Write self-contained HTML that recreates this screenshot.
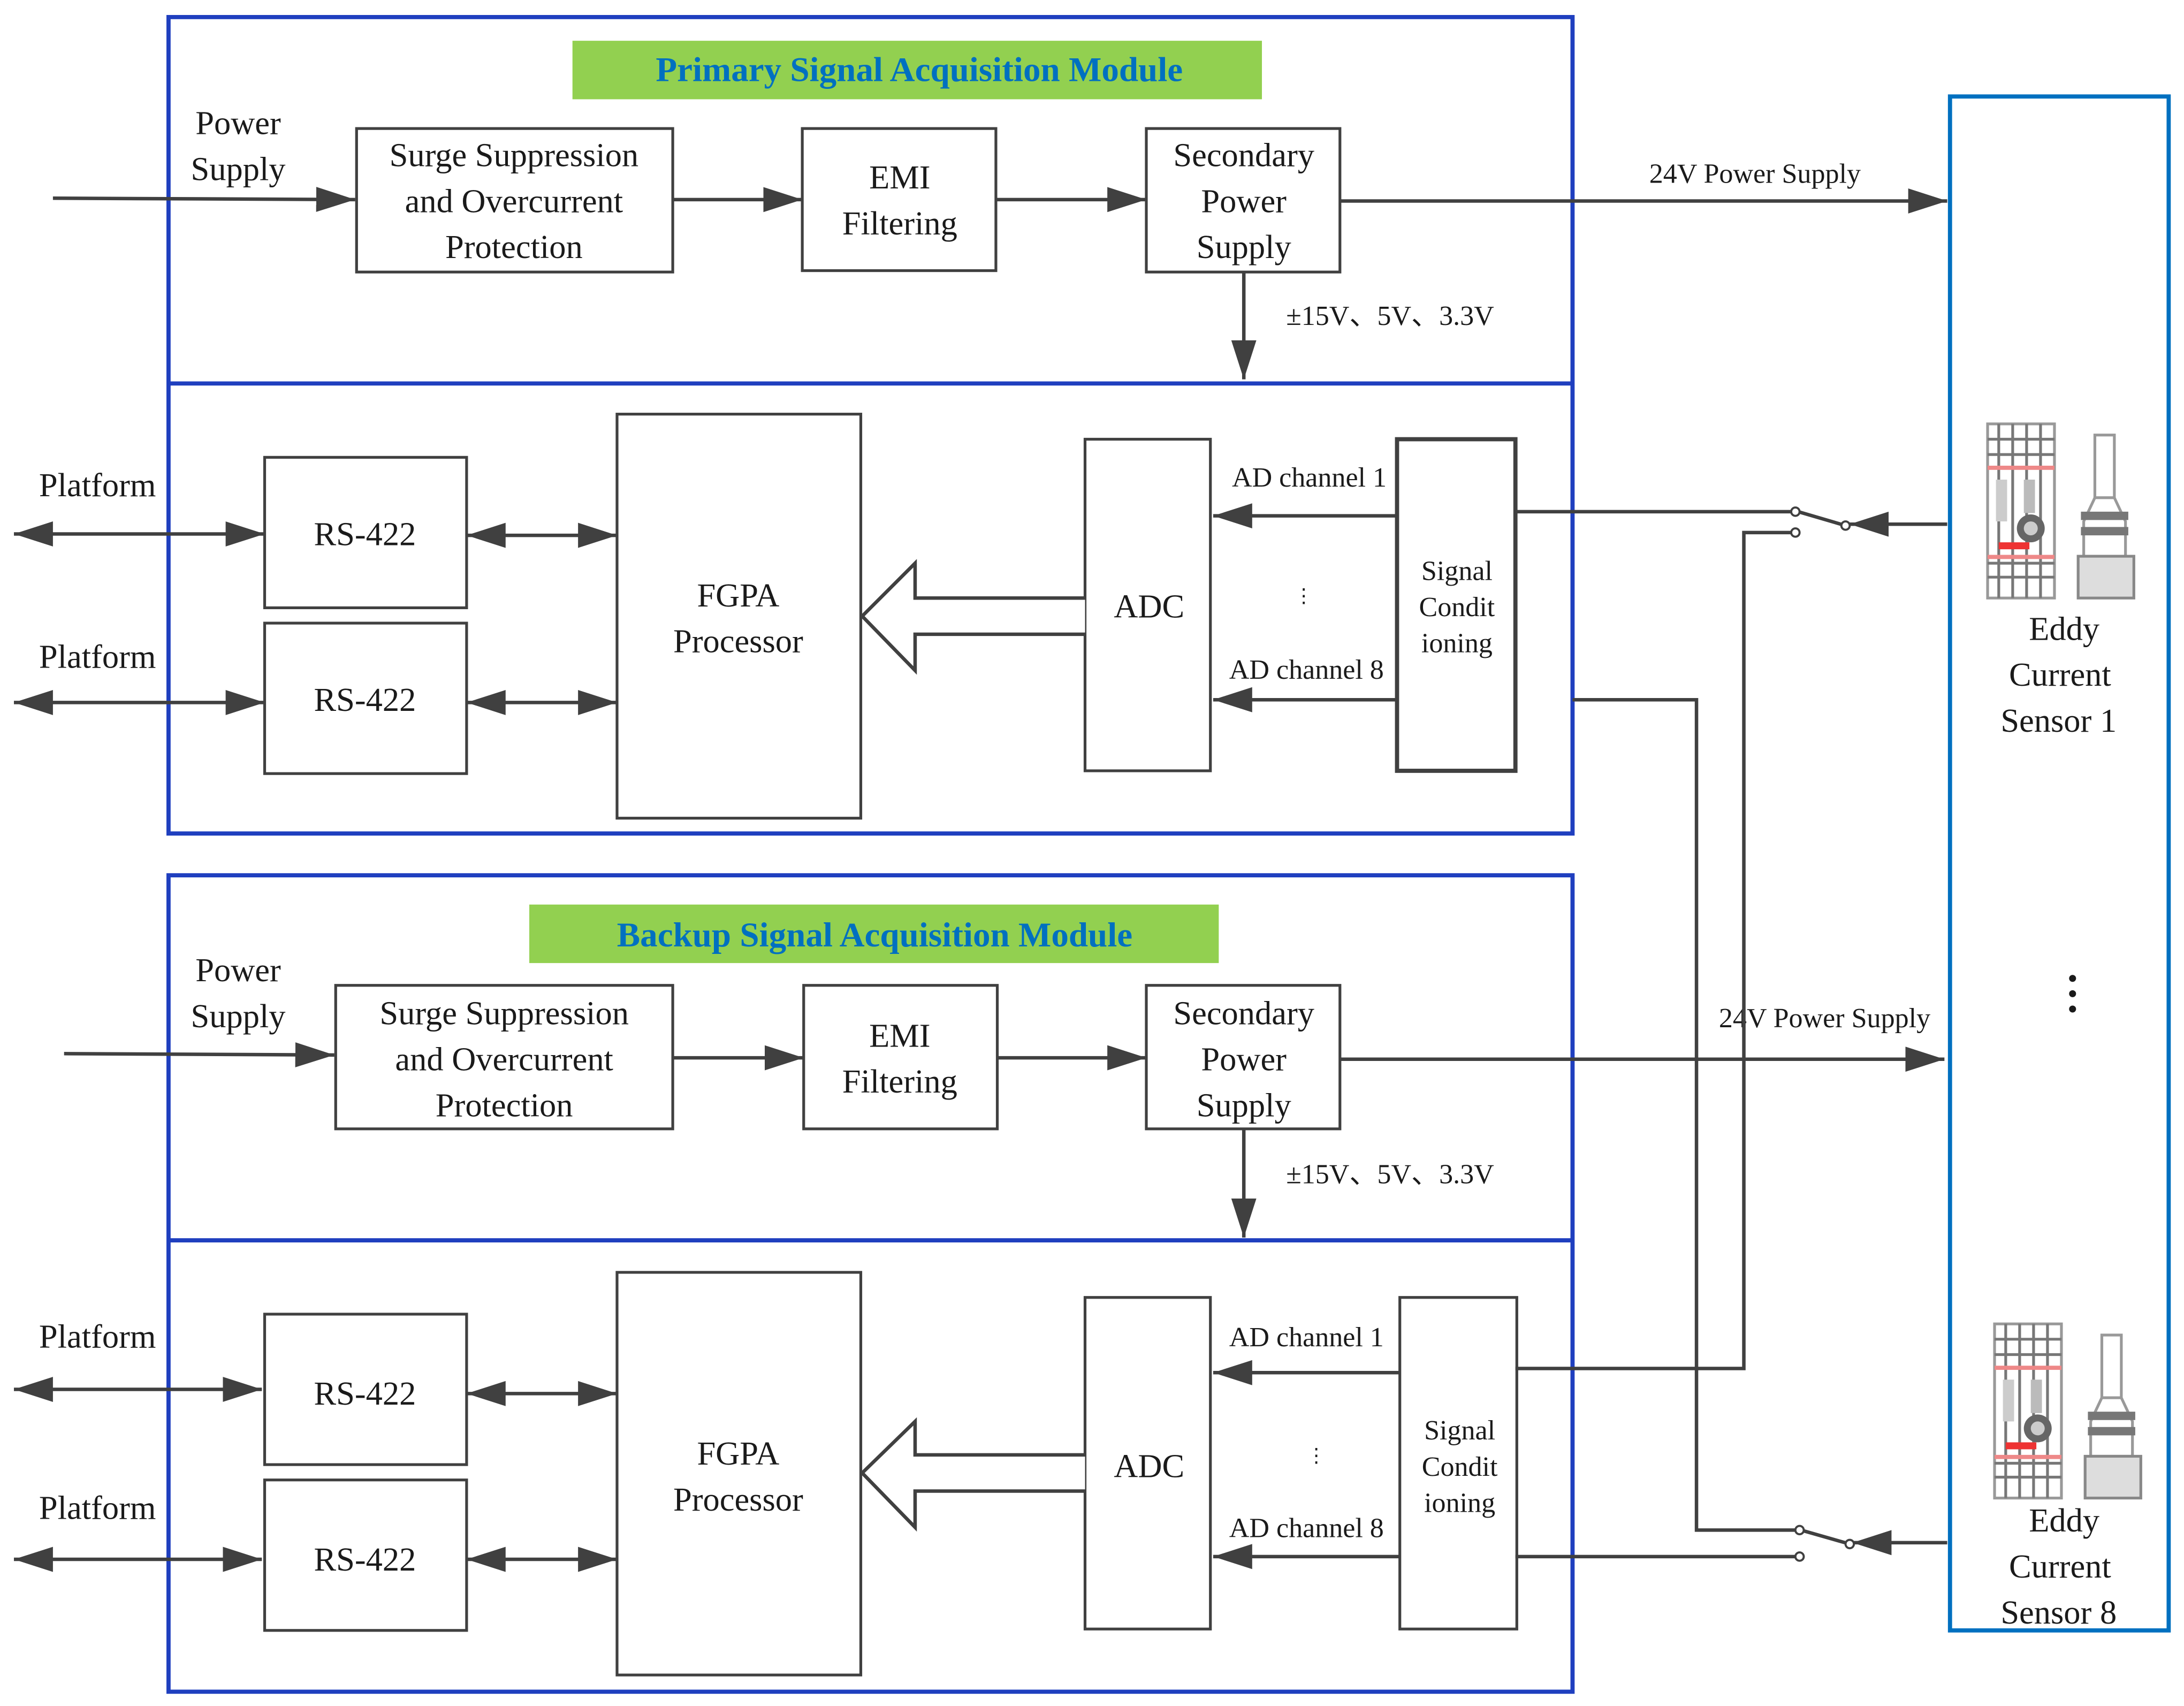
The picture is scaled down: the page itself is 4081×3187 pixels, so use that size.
<!DOCTYPE html>
<html><head><meta charset="utf-8"><style>html,body{margin:0;padding:0;background:#fff}svg{display:block}svg text{font-family:"Liberation Serif","DejaVu Serif",serif}</style></head>
<body>
<svg xmlns="http://www.w3.org/2000/svg" width="4081" height="3187" viewBox="0 0 1568 1224">
<defs>
<marker id="a" markerUnits="userSpaceOnUse" markerWidth="30" markerHeight="20" refX="28" refY="9" orient="auto-start-reverse"><path d="M0,0 L28,9 L0,18 Z" fill="#404040"/></marker>
<g id="icon">
<rect x="0" y="0" width="48" height="125" fill="#fff" stroke="#999" stroke-width="2"/>
<g stroke="#777" stroke-width="2" fill="none">
<line x1="8" y1="0" x2="8" y2="125"/><line x1="18" y1="0" x2="18" y2="125"/><line x1="28" y1="0" x2="28" y2="125"/><line x1="38" y1="0" x2="38" y2="125"/>
<line x1="0" y1="11" x2="48" y2="11"/><line x1="0" y1="22" x2="48" y2="22"/><line x1="0" y1="110" x2="48" y2="110"/><line x1="0" y1="100" x2="48" y2="100"/>
</g>
<rect x="0" y="30" width="48" height="3" fill="#e88"/><rect x="0" y="94" width="48" height="3" fill="#e88"/>
<rect x="8" y="85" width="22" height="5" fill="#e33"/>
<circle cx="31" cy="75" r="10" fill="#666"/><circle cx="31" cy="75" r="5" fill="#ccc"/>
<rect x="6" y="40" width="8" height="30" fill="#ccc"/><rect x="26" y="40" width="8" height="24" fill="#bbb"/>
<g transform="translate(55,0)">
<rect x="22" y="8" width="14" height="45" fill="#fff" stroke="#999" stroke-width="2"/>
<path d="M22,53 L14,70 L14,95 L44,95 L44,70 L36,53 Z" fill="#fff" stroke="#999" stroke-width="2"/>
<rect x="12" y="63" width="34" height="6" fill="#777"/><rect x="12" y="74" width="34" height="6" fill="#777"/>
<rect x="10" y="95" width="40" height="30" fill="#ddd" stroke="#888" stroke-width="2"/>
</g>
</g>
</defs>
<g style="font-family:'Liberation Serif',serif" fill="#1a1a1a">
<g fill="none" stroke="#1f3fbf" stroke-width="3">
<rect x="121" y="12" width="1008" height="586"/><line x1="121" y1="275" x2="1129" y2="275"/>
<rect x="121" y="628" width="1008" height="586"/><line x1="121" y1="890" x2="1129" y2="890"/>
</g>
<rect x="1400" y="69" width="157" height="1101" fill="none" stroke="#0070c0" stroke-width="3"/>
<rect x="411" y="29" width="495" height="42" fill="#92d050"/>
<text x="660" y="58" text-anchor="middle" font-size="25" font-weight="bold" fill="#0070c0">Primary Signal Acquisition Module</text>
<rect x="380" y="649" width="495" height="42" fill="#92d050"/>
<text x="628" y="679" text-anchor="middle" font-size="25" font-weight="bold" fill="#0070c0">Backup Signal Acquisition Module</text>

<g fill="#fff" stroke="#404040" stroke-width="2">
<rect x="256" y="92" width="227" height="103"/><rect x="576" y="92" width="139" height="102"/><rect x="823" y="92" width="139" height="103"/>
<rect x="190" y="328" width="145" height="108"/><rect x="190" y="447" width="145" height="108"/>
<rect x="443" y="297" width="175" height="290"/><rect x="779" y="315" width="90" height="238"/>
<rect x="1003" y="315" width="85" height="238" stroke-width="3"/>
<rect x="241" y="707" width="242" height="103"/><rect x="577" y="707" width="139" height="103"/><rect x="823" y="707" width="139" height="103"/>
<rect x="190" y="943" width="145" height="108"/><rect x="190" y="1062" width="145" height="108"/>
<rect x="443" y="913" width="175" height="289"/><rect x="779" y="931" width="90" height="238"/>
<rect x="1005" y="931" width="84" height="238"/>
</g>

<g font-size="24" text-anchor="middle">
<text x="171" y="96">Power</text><text x="171" y="129">Supply</text>
<text x="369" y="119">Surge Suppression</text><text x="369" y="152">and Overcurrent</text><text x="369" y="185">Protection</text>
<text x="646" y="135">EMI</text><text x="646" y="168">Filtering</text>
<text x="893" y="119">Secondary</text><text x="893" y="152">Power</text><text x="893" y="185">Supply</text>
<text x="70" y="356">Platform</text><text x="70" y="479">Platform</text>
<text x="262" y="391">RS-422</text><text x="262" y="510">RS-422</text>
<text x="530" y="435">FGPA</text><text x="530" y="468">Processor</text>
<text x="825" y="443">ADC</text>
<text x="171" y="704">Power</text><text x="171" y="737">Supply</text>
<text x="362" y="735">Surge Suppression</text><text x="362" y="768">and Overcurrent</text><text x="362" y="801">Protection</text>
<text x="646" y="751">EMI</text><text x="646" y="784">Filtering</text>
<text x="893" y="735">Secondary</text><text x="893" y="768">Power</text><text x="893" y="801">Supply</text>
<text x="70" y="967">Platform</text><text x="70" y="1090">Platform</text>
<text x="262" y="1008">RS-422</text><text x="262" y="1127">RS-422</text>
<text x="530" y="1051">FGPA</text><text x="530" y="1084">Processor</text>
<text x="825" y="1060">ADC</text>
<text x="1482" y="459">Eddy</text><text x="1479" y="492">Current</text><text x="1478" y="525">Sensor 1</text>
<text x="1482" y="1099">Eddy</text><text x="1479" y="1132">Current</text><text x="1478" y="1165">Sensor 8</text>
</g>
<g font-size="20" text-anchor="middle">
<text x="1046" y="416">Signal</text><text x="1046" y="442">Condit</text><text x="1046" y="468">ioning</text>
<text x="1048" y="1033">Signal</text><text x="1048" y="1059">Condit</text><text x="1048" y="1085">ioning</text>
<text x="940" y="349">AD channel  1</text><text x="938" y="487">AD channel  8</text>
<text x="938" y="966">AD channel  1</text><text x="938" y="1103">AD channel  8</text>
<text x="1260" y="131">24V Power Supply</text><text x="1310" y="737">24V Power Supply</text>
<text x="998" y="233">±15V、5V、3.3V</text><text x="998" y="849">±15V、5V、3.3V</text>
<text x="698" y="449">I/O</text><text x="698" y="1064">I/O</text>
<text x="936" y="432" font-size="14">⋮</text><text x="945" y="1049" font-size="14">⋮</text>
</g>
<g fill="#1a1a1a"><circle cx="1488" cy="702" r="2.5"/><circle cx="1488" cy="713" r="2.5"/><circle cx="1488" cy="724" r="2.5"/></g>

<g stroke="#404040" stroke-width="2.5" fill="none" marker-end="url(#a)">
<line x1="38" y1="142" x2="255" y2="143"/><line x1="483" y1="143" x2="576" y2="143"/><line x1="715" y1="143" x2="823" y2="143"/>
<line x1="962" y1="144" x2="1398" y2="144"/><line x1="893" y1="195" x2="893" y2="272"/>
<line x1="1003" y1="370" x2="871" y2="370"/><line x1="1003" y1="502" x2="871" y2="502"/>
<line x1="46" y1="756" x2="240" y2="757"/><line x1="483" y1="759" x2="577" y2="759"/><line x1="716" y1="759" x2="823" y2="759"/>
<line x1="962" y1="760" x2="1396" y2="760"/><line x1="893" y1="810" x2="893" y2="888"/>
<line x1="1005" y1="985" x2="871" y2="985"/><line x1="1005" y1="1117" x2="871" y2="1117"/>
<line x1="1398" y1="376" x2="1328" y2="376"/><line x1="1398" y1="1107" x2="1330" y2="1107"/>
</g>
<g stroke="#404040" stroke-width="2.5" fill="none" marker-start="url(#a)" marker-end="url(#a)">
<line x1="10" y1="383" x2="190" y2="383"/><line x1="335" y1="384" x2="443" y2="384"/>
<line x1="10" y1="504" x2="190" y2="504"/><line x1="335" y1="504" x2="443" y2="504"/>
<line x1="10" y1="997" x2="188" y2="997"/><line x1="335" y1="1000" x2="443" y2="1000"/>
<line x1="10" y1="1119" x2="188" y2="1119"/><line x1="335" y1="1119" x2="443" y2="1119"/>
</g>
<g fill="#fff" stroke="#404040" stroke-width="2.5">
<path d="M779,429 L657,429 L657,404 L619,442 L657,481 L657,455 L779,455"/>
<path d="M779,1044 L657,1044 L657,1020 L619,1057 L657,1096 L657,1070 L779,1070"/>
</g>
<g stroke="#404040" stroke-width="2.5" fill="none">
<polyline points="1088,367 1288,367"/>
<polyline points="1088,982 1252,982 1252,382 1288,382"/>
<polyline points="1129,502 1218,502 1218,1098 1290,1098"/>
<polyline points="1088,1117 1290,1117"/>
<line x1="1291" y1="367" x2="1325" y2="377"/>
<line x1="1293" y1="1098" x2="1328" y2="1108"/>
</g>
<g fill="#fff" stroke="#404040" stroke-width="1.5">
<circle cx="1289" cy="367" r="3"/><circle cx="1289" cy="382" r="3"/><circle cx="1325" cy="377" r="3"/>
<circle cx="1292" cy="1098" r="3"/><circle cx="1292" cy="1117" r="3"/><circle cx="1328" cy="1108" r="3"/>
</g>
<use href="#icon" x="1427" y="304"/>
<use href="#icon" x="1432" y="950"/>
</g>
</svg>
</body></html>
